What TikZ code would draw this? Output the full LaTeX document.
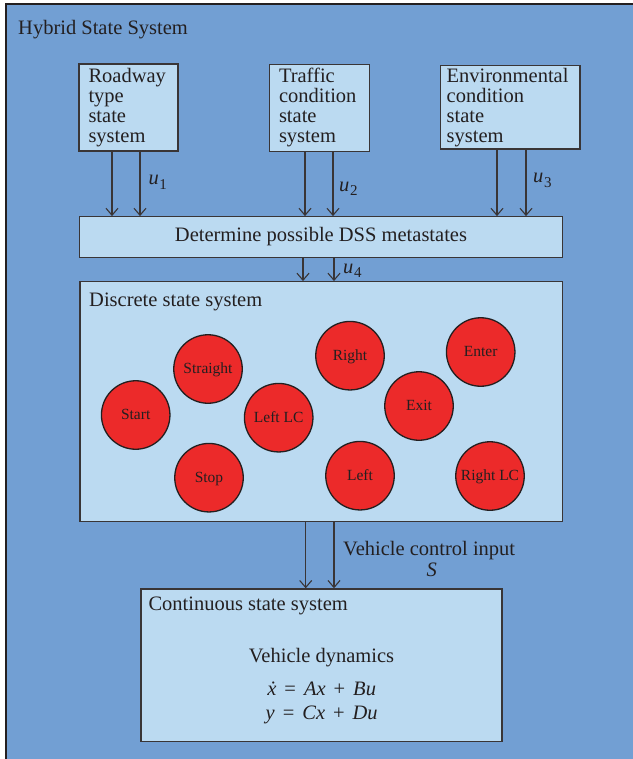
\documentclass[tikz,border=0pt]{standalone}
\usepackage{fontspec}
\setmainfont{Liberation Serif}
\usetikzlibrary{arrows.meta}

\definecolor{hybridblue}{HTML}{729FD3}
\definecolor{panelblue}{HTML}{BBDAF1}
\definecolor{statered}{HTML}{EC2A2A}
\definecolor{ink}{HTML}{231F20}

% input signal label: italic u with a lowered upright index
\newcommand\uin[1]{\textit{u}\kern0.6pt\raisebox{-4.3pt}{\fontsize{15}{15}\selectfont #1}}
% relation / operator with widened spacing for the state equations
\newcommand\eqop[1]{\hspace{8pt}#1\hspace{8pt}}

\begin{document}
\begin{tikzpicture}[x=1pt,y=-1pt,
  every node/.append style={text=ink},
  panel/.style={draw=ink!90, line width=1.3pt, fill=panelblue, inner sep=0pt},
  bigtext/.style={font=\fontsize{20.5}{20}\selectfont},
  plain/.style={bigtext, inner sep=0pt},
  statenode/.style={circle, draw=ink, line width=1.3pt, fill=statered,
    minimum size=68.5pt, inner sep=0pt, text height=9pt, text depth=0pt,
    font=\fontsize{15.5}{16}\selectfont},
  flow/.style={draw=ink!90, line width=1.1pt,
    -{Straight Barb[length=7pt,width=12pt,line width=1.1pt]}}
]
\useasboundingbox (0,0) rectangle (632,759);

% hybrid system frame
\fill[hybridblue] (6,4) rectangle (660,790);
\draw[ink, line width=2pt] (6,790) -- (6,4) -- (660,4);
\node[plain, anchor=base west] (hybrid) at (18,35) {Hybrid State System};

% state sub-systems feeding the metastate block
\node[panel, bigtext, minimum width=99pt, minimum height=87pt,
  text width=80pt, inner xsep=9.5pt, align=left] (road) at (128.5,107.5)
  {Roadway\\type\\state\\system};
\node[panel, bigtext, minimum width=100pt, minimum height=87pt,
  text width=81pt, inner xsep=9.5pt, align=left] (traffic) at (319.5,107.7)
  {Traffic\\condition\\state\\system};
\node[panel, bigtext, minimum width=139.3pt, minimum height=83.3pt,
  text width=127.3pt, inner xsep=6pt, align=left] (env) at (510.3,107.3)
  {Environmental\\condition\\state\\system};

\node[panel, bigtext, minimum width=483.4pt, minimum height=40.5pt] (dss)
  at (321,237) {Determine possible DSS metastates};

% discrete state system
\node[panel, minimum width=482.5pt, minimum height=240pt] (discrete) at (321.2,401.7) {};
\node[plain, anchor=base west] (discretetitle) at (89,306) {Discrete state system};

\node[statenode] (start)    at (135.7,415)   {Start};
\node[statenode] (straight) at (208,369)     {Straight};
\node[statenode] (stop)     at (209,477.7)   {Stop};
\node[statenode] (leftlc)   at (278.7,417.7) {Left LC};
\node[statenode] (right)    at (350,355.7)   {Right};
\node[statenode] (left)     at (360,475.7)   {Left};
\node[statenode] (exit)     at (419,406)     {Exit};
\node[statenode] (enter)    at (480.7,352)   {Enter};
\node[statenode] (rightlc)  at (490,476)     {Right LC};

% continuous state system
\node[panel, minimum width=361pt, minimum height=152.7pt] (cont) at (321.5,665.3) {};
\node[plain, anchor=base west] (conttitle) at (148.3,610) {Continuous state system};
\node[plain, anchor=base] (dyn) at (321.5,662.7) {Vehicle dynamics};
\node[plain, anchor=base] (eqx) at (321.7,695)
  {\textit{\.x}\eqop{=}\textit{Ax}\eqop{+}\textit{Bu}};
\node[plain, anchor=base] (eqy) at (321.7,719.3)
  {\textit{y}\eqop{=}\textit{Cx}\eqop{+}\textit{Du}};

% signal flow
\draw[flow] (road.south -| 112,0) -- (dss.north -| 112,0);
\draw[flow] (road.south -| 140,0) -- (dss.north -| 140,0);
\draw[flow] (traffic.south -| 305,0) -- (dss.north -| 305,0);
\draw[flow] (traffic.south -| 333,0) -- (dss.north -| 333,0);
\draw[flow] (env.south -| 497,0) -- (dss.north -| 497,0);
\draw[flow] (env.south -| 526,0) -- (dss.north -| 526,0);
\draw[flow] (dss.south -| 303,0) -- (discrete.north -| 303,0);
\draw[flow] (dss.south -| 334,0) -- (discrete.north -| 334,0);
\draw[flow] (discrete.south -| 305.7,0) -- (cont.north -| 305.7,0);
\draw[flow] (discrete.south -| 334,0) -- (cont.north -| 334,0);

\node[plain, anchor=base west] (u1) at (148.3,185) {\uin{1}};
\node[plain, anchor=base west] (u2) at (339,191.5) {\uin{2}};
\node[plain, anchor=base west] (u3) at (533,183) {\uin{3}};
\node[plain, anchor=base west] (u4) at (343,273) {\uin{4}};

\node[plain, anchor=base west] (vci) at (343,555.7) {Vehicle control input};
\node[plain, anchor=base] (sig) at (431.7,576.7) {\textit{S}};
\end{tikzpicture}
\end{document}
